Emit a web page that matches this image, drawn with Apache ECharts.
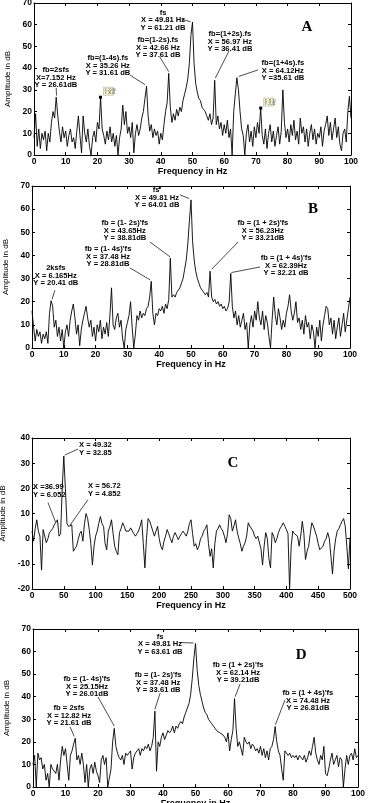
<!DOCTYPE html>
<html><head><meta charset="utf-8">
<script src="https://cdn.jsdelivr.net/npm/echarts@6/dist/echarts.min.js"></script>
<style>html,body{margin:0;padding:0;background:#fff}#c{width:383px;height:803px}</style>
</head><body><div id="c"></div><script>
// ---------- DATA ----------
const stepA = 0.5; // Hz between samples, panels A, B, D
const ampA = [
 8,19,4,12,3,10,7,11,2,10,6,15,20,17,26.6,18,11,6,13,8,
 11,4,9,12,6,8,3,11,18,9,1,18,10,6,12,4,0,8,11,6,
 15,12,26.6,12,9,5,11,7,13,6,10,4,9,0,8,12,23,14,20,10,
 13,8,15,1,10,14,9,12,17,20,26,31.6,18,11,14,8,12,9,11,5,
 10,7,14,20,24,37.6,22,15,19,16,21,18,22,20,25,28,31,35,42,55,
 61.2,42,33,29,26,25,22,21,20,18,16,19,14,17,34.4,14,18,12,15,9,
 14,10,16,8,12,0,20,28,35.6,30,20,12,9,0,10,14,6,11,4,13,
 8,15,10,21.6,9,5,12,3,10,14,6,11,4,9,13,5,11,30,15,8,
 12,6,14,9,16,7,11,5,17,10,13,6,12,4,10,14,7,12,5,10,
 8,13,4,11,14,18,9,15,7,12,17,8,13,5,2,10,12,6,20,27,
 17
];
const ampB = [
 16,9,3,8,5,7,2,6,4,7,2,15,20.4,18,9,12,5,9,3,8,
 0,7,10,5,12,16,19,13,6,10,1,8,12,15,18,13,9,12,5,9,
 3,10,7,12,4,9,6,11,5,14,26,10,8,13,15,9,12,4,0,8,
 11,14,20,9,0,6,14,12,16,13,15,14,17,18,22,28.8,15,10,15,14,
 17,16,18,15,19,17,21,38.8,22,23,22,24,25,26,28,30,34,38,45,55,
 64.0,46,38,33,30,28,26,25,24,23,24,22,33.2,22,20,21,19,20,18,19,
 17,18,16,17,20,32.2,18,13,16,10,14,9,12,15,8,11,0,10,14,9,
 16,12,20,13,10,16,8,14,11,5,0,12,22,14,10,17,13,8,12,9,
 15,18,23,16,12,15,20,11,13,8,12,6,14,9,11,4,10,7,0,9,
 5,12,3,10,14,18,17,10,13,6,12,4,9,13,5,10,15,7,12,17,
 22
];
const stepC = 2.5; // Hz between samples, panel C
const ampC = [
 3,-1,4,7.5,3,1,-12.5,3.6,1,-1.6,0,2.4,2,4,5.5,6,7.5,1,2,20,
 32.85,20,6,4.85,4.5,5.5,-5,-4,-3,-0.4,2,3,-1,6,10,8,3.6,-2,-10.5,-3,
 1,3,6,8.8,6,4.9,-2,-4.4,3,4.9,7.5,2,-3,-5,-6.4,2.4,4,6.3,4.9,3,
 2.4,3,4.3,4,2,1,2,3,5,7.5,-2,-11.6,0,8,7,6.3,3,1,3,4.9,
 0,-3,-4.4,-1,1,3.6,2,0,-1.6,1,2.4,1,-0.4,1,2,3,2,1,3,6,
 7.5,2,-3,-2,-4.4,-3,0,1,3,4,5.5,-2,-7,-4,-11.6,-2,3,4,5.5,4,
 3,1,-1.6,2,9.5,8,3,5,7.5,3,0.3,-2,-5,-3,-1.6,1,6.3,5,5.5,3,
 1,0,1,1,-4,-10.5,-3,2.4,0,-8,-11.6,2.4,1,-1.6,0,2.4,4,5,6.3,5,
 3.6,2,-20,-3,3,2,2.4,1,-3,1,6.9,2,-8.3,-5,-3,2,6.3,5,3,1,
 -2,-4.4,-4,-3,-1,0,2.4,0,-7,-14,-5,0,3,4,5.5,7,8,5,-3,-12,
 0.5
];
const ampD = [
 10,14,0,15,12,13,8,10,3,6,0,10,8,7,6,10,3,12,18,14,
 17,10,3,14,16,19,21.6,12,14,10,15,10,2,10,0,8,10,6,11,7,
 5,2,12,14,10,13,0,0,8,20,26,18,15,13,12,14,10,15,14,15,
 16,8,13,15,16,17,14,17,16,18,17,19,16,18,22,33.6,7,20,18,22,
 24,21,23,25,24,25,27,24,27,26,28,29,28,31,33,35,37,41,48,57,
 63.6,52,45,41,38,35,33,32,30,29,28,27,26,25,25,24,24,23,22,20,
 24,16,21,25,39.2,26,18,20,20,14,22,20,19,20,17,19,18,16,17,15,
 18,14,17,13,16,12,17,18,21,26.8,20,16,14,8,3,16,15,14,15,13,
 14,13,14,12,14,13,12,14,11,13,16,14,18,22,15,12,10,14,12,18,
 6,5,8,12,15,10,12,14,9,13,12,0,8,14,10,14,15,12,17,13,
 14
];
const xTicksAB = [0,10,20,30,40,50,60,70,80,90,100];
const xTicksC = [0,50,100,150,200,250,300,350,400,450,500];
const yRange = [[0,70],[0,70],[-20,40],[0,70]];
const xRange = [[0,100],[0,100],[0,500],[0,100]];
const panelLetters = ['A','B','C','D'];

// annotations: [text, x, yTop, align]
const labelsA = [
 ['fs\nX = 49.81 Hz\nY = 61.21 dB', 40.7, 67.3, 'center'],
 ['fb=(1+2s).fs\nX = 56.97 Hz\nY = 36.41 dB', 61.8, 57.4, 'center'],
 ['fb=(1-2s).fs\nX = 42.66 Hz\nY = 37.61 dB', 39.1, 54.6, 'center'],
 ['fb=(1-4s).fs\nX = 35.26 Hz\nY = 31.61 dB', 23.3, 46.4, 'center'],
 ['fb=(1+4s).fs\nX = 64.12Hz\nY =35.61 dB', 78.5, 44.1, 'center'],
 ['fb=2sfs\nX=7.152 Hz\nY = 26.61dB', 6.9, 40.8, 'center']
];
const arrowsA = [[46.6,62.4,49.4,61.4],[61.5,47.9,57.2,35.4],[39.7,45.1,42.5,38.4],[30.3,36.8,35.0,32.4],[70.7,39.2,64.6,36.2],[7.0,30.9,7.1,27.4]];
const tipsA = [[20.96,26.61],[71.52,21.61]];
const labelsB = [
 ["fs'\nX = 49.81 Hz\nY = 64.01 dB", 39.3, 69.9, 'center'],
 ["fb = (1- 2s)'fs\nX = 43.65Hz\nY = 38.81dB", 29.2, 55.5, 'center'],
 ["fb = (1 + 2s)'fs\nX = 56.23Hz\nY = 33.21dB", 72.6, 55.5, 'center'],
 ["fb = (1- 4s)'fs\nX = 37.48 Hz\nY = 28.81dB", 23.9, 44.3, 'center'],
 ["fb = (1 + 4s)'fs\nX = 62.39Hz\nY = 32.21 dB", 79.9, 40.4, 'center'],
 ['2ksfs\nX = 6.165Hz\nY = 20.41 dB', 7.5, 36.1, 'center']
];
const arrowsB = [[46.5,66.2,49.4,64.6],[37.1,45.8,43.4,39.4],[64.8,45.8,56.5,34.0],[30.8,34.6,37.2,29.4],[71.7,35.0,62.7,32.6],[7.2,25.0,6.3,21.0]];
const labelsC = [
 ['X = 49.32\nY = 32.85', 73.9, 38.6, 'left'],
 ['X =36.99\nY = 6.052', 1.6, 21.9, 'left'],
 ['X = 56.72\nY = 4.852', 88, 22.3, 'left']
];
const arrowsC = [[72.3,35.6,51.5,33.2],[25.2,14.3,36.99,6.6],[88,15.5,60,5.4]];
const labelsD = [
 ['fs\nX = 49.81 Hz\nY = 63.61 dB', 39.1, 68.3, 'center'],
 ["fb = (1 + 2s)'fs\nX = 62.14 Hz\nY = 39.21dB", 63.1, 55.6, 'center'],
 ["fb = (1- 2s)'fs\nX = 37.48 Hz\nY = 33.61 dB", 38.5, 51.2, 'center'],
 ["fb = (1- 4s)'fs\nX = 25.15Hz\nY = 26.01dB", 16.6, 49.4, 'center'],
 ["fb = (1 + 4s)'fs\nX = 74.48 Hz\nY = 26.81dB", 84.6, 43.2, 'center'],
 ['fb = 2sfs\nX = 12.82 Hz\nY = 21.61 dB', 11.1, 36.5, 'center']
];
const arrowsD = [[45.2,64.0,49.4,63.8],[63.7,45.6,62.2,40.0],[39.1,41.6,37.5,34.4],[20.0,39.9,25.0,27.0],[77.5,38.5,74.6,27.6],[11.4,26.6,12.7,22.4]];
const letterPos = [[86.1,59],[88.4,60.1],[316,30.2],[82.5,58.5]];

// ---------- CHART ----------
const gridsPx = [
 {left:34, right:32, top:3, height:152, outerBoundsMode:'none', containLabel:false},
 {left:32, right:33, top:186, height:162, outerBoundsMode:'none', containLabel:false},
 {left:32, right:33, top:438, height:151, outerBoundsMode:'none', containLabel:false},
 {left:33, right:25, top:629, height:158, outerBoundsMode:'none', containLabel:false}
];
const FONT = 'Liberation Sans, Arial, sans-serif';
function toPairs(arr, step){ return arr.map((v,i)=>[+(i*step).toFixed(3), v]); }
const seriesData = [toPairs(ampA,stepA), toPairs(ampB,stepA), toPairs(ampC,stepC), toPairs(ampD,stepA)];
const arrowSets = [arrowsA, arrowsB, arrowsC, arrowsD];
const labelSets = [labelsA, labelsB, labelsC, labelsD];

const xAxes = [], yAxes = [], series = [];
for (let g=0; g<4; g++){
  const xint = g===2 ? 50 : 10;
  const line = {show:true, onZero:false, lineStyle:{color:'#000', width:1}};
  xAxes.push({type:'value', gridIndex:g, min:xRange[g][0], max:xRange[g][1], interval:xint,
    axisLine:line, axisTick:{inside:true, length:3, lineStyle:{color:'#000'}},
    axisLabel:{color:'#000', fontSize:8.5, fontWeight:'bold', fontFamily:FONT, margin:2},
    splitLine:{show:false}, name:'Frequency in Hz', nameLocation:'middle', nameGap:12,
    nameTextStyle:{color:'#000', fontSize:9, fontWeight:'bold', fontFamily:FONT}});
  xAxes.push({type:'value', gridIndex:g, position:'top', min:xRange[g][0], max:xRange[g][1], interval:xint,
    axisLine:line, axisTick:{inside:true, length:3, lineStyle:{color:'#000'}},
    axisLabel:{show:false}, splitLine:{show:false}});
  yAxes.push({type:'value', gridIndex:g, min:yRange[g][0], max:yRange[g][1], interval:10,
    axisLine:line, axisTick:{inside:true, length:3, lineStyle:{color:'#000'}},
    axisLabel:{color:'#000', fontSize:8.5, fontWeight:'bold', fontFamily:FONT, margin:2},
    splitLine:{show:false}, name:'Amplitude in dB', nameLocation:'middle', nameGap:13,
    nameTextStyle:{color:'#000', fontSize:8, fontFamily:FONT}});
  yAxes.push({type:'value', gridIndex:g, position:'right', min:yRange[g][0], max:yRange[g][1], interval:10,
    axisLine:line, axisTick:{inside:true, length:3, lineStyle:{color:'#000'}},
    axisLabel:{show:false}, splitLine:{show:false}});
  const s = {type:'line', xAxisIndex:g*2, yAxisIndex:g*2, data:seriesData[g], showSymbol:false,
    lineStyle:{color:'#000', width:0.9}, animation:false, silent:true,
    markLine:{silent:true, animation:false, symbol:['none','arrow'], symbolSize:[0,5], precision:3,
      lineStyle:{color:'#000', width:0.7, type:'solid'}, label:{show:false},
      data: arrowSets[g].map(a=>[{coord:[a[0],a[1]]},{coord:[a[2],a[3]]}])}};
  if (g===0){
    s.markPoint = {silent:true, animation:false, symbol:'rect', symbolSize:3, itemStyle:{color:'#000'}, label:{show:false},
      data: tipsA.map(p=>({coord:p}))};
  }
  series.push(s);
}
const chart = echarts.init(document.getElementById('c'), null, {renderer:'canvas'});
chart.setOption({animation:false, backgroundColor:'#fff', grid:gridsPx, xAxis:xAxes, yAxis:yAxes, series:series});

// text annotations placed from data coordinates
const gfx = [];
for (let g=0; g<4; g++){
  labelSets[g].forEach(l=>{
    const p = chart.convertToPixel({gridIndex:g}, [l[1], l[2]]);
    gfx.push({type:'text', x:p[0], y:p[1], silent:true, style:{text:l[0], fill:'#000', textAlign:l[3], textVerticalAlign:'top',
      font:'bold 7.6px '+FONT, lineHeight:7.5}});
  });
  const lp = chart.convertToPixel({gridIndex:g}, letterPos[g]);
  gfx.push({type:'text', x:lp[0], y:lp[1], silent:true, style:{text:panelLetters[g], fill:'#000', textAlign:'center', textVerticalAlign:'middle',
    font:'bold 15px Liberation Serif, Times New Roman, serif'}});
}
tipsA.forEach(t=>{
  const p = chart.convertToPixel({gridIndex:0}, t);
  gfx.push({type:'rect', silent:true, shape:{x:p[0]+3, y:p[1]-10, width:10, height:8}, style:{fill:'#fafad2', stroke:'#999', lineWidth:0.5}});
  gfx.push({type:'text', silent:true, x:p[0]+4, y:p[1]-9, style:{text:'X: '+t[0]+'\nY: '+t[1], fill:'#333', font:'3px '+FONT, lineHeight:3.5, textVerticalAlign:'top'}});
});
chart.setOption({graphic:gfx});
</script></body></html>
